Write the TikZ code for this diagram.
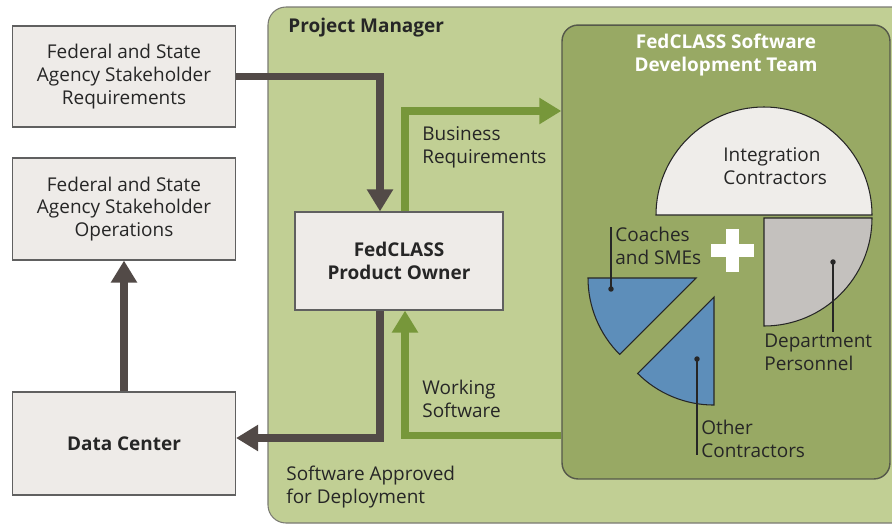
\documentclass[tikz,border=0pt]{standalone}
\usepackage{fontspec}
\setmainfont{Open Sans}
\usepackage{tikz}
\usetikzlibrary{arrows.meta}
\definecolor{pmbg}{HTML}{C1CF94}
\definecolor{pmline}{HTML}{7A7A72}
\definecolor{devbg}{HTML}{98A964}
\definecolor{devline}{HTML}{55584A}
\definecolor{boxbg}{HTML}{EEEBE8}
\definecolor{boxline}{HTML}{606060}
\definecolor{arrdark}{HTML}{524A47}
\definecolor{arrgreen}{HTML}{77973A}
\definecolor{ink}{HTML}{262626}
\definecolor{halfbg}{HTML}{EFEDEA}
\definecolor{quarterbg}{HTML}{C4C1BE}
\definecolor{bluebg}{HTML}{5D8EBA}
\newcommand{\diafont}{\fontsize{10.8pt}{13pt}\selectfont}
\tikzset{
  pmpanel/.style={draw=pmline, fill=pmbg, line width=0.6pt, rounded corners=0.36cm},
  devbox/.style={draw=devline, fill=devbg, line width=0.8pt, rounded corners=0.32cm,
    minimum width=6.56cm, minimum height=9.08cm, inner sep=0pt},
  box/.style={draw=boxline, fill=boxbg, line width=0.7pt, font=\diafont, text=ink,
    align=center, minimum width=4.46cm, inner sep=2pt},
  darkarr/.style={draw=arrdark, line width=4pt, -{Triangle[length=12.5pt,width=14.2pt]}},
  greenarr/.style={draw=arrgreen, line width=4pt, -{Triangle[length=12.5pt,width=14.2pt]}},
  slice/.style={draw=ink, line width=0.6pt},
  leader/.style={draw=ink, line width=0.6pt},
  dot/.style={circle, fill=ink, inner sep=1.1pt},
  lab/.style={font=\diafont, text=ink, inner sep=0pt, align=left, anchor=west},
}
\begin{document}
\begin{tikzpicture}[x=0.02cm,y=-0.02cm]
  \clip (0,0) rectangle (892,525);
  \fill[white] (0,0) rectangle (892,525);

  % project manager panel
  \draw[pmpanel] (268,7) rectangle (940,523);
  \node[lab,font=\diafont\bfseries] (pm) at (288,28) {Project Manager};

  % boxes outside
  \node[box,minimum height=2.02cm] (req) at (124,76.5)
    {Federal and State\\Agency Stakeholder\\Requirements};
  \node[box,minimum height=2.04cm] (ops) at (124,209)
    {Federal and State\\Agency Stakeholder\\Operations};
  \node[box,minimum height=2.06cm,font=\diafont\bfseries] (dc) at (124,443.5) {Data Center};

  % product owner
  \node[box,minimum width=4.16cm,minimum height=1.96cm,font=\diafont\bfseries] (po) at (399,261)
    {FedCLASS\\Product Owner};

  % development team
  \node[devbox] (dev) at (726,252) {};
  \node[font=\diafont\bfseries, text=white, align=center] (devt) at (726,55)
    {FedCLASS Software\\Development Team};

  % arrow lanes
  \coordinate (inx) at (380,0);
  \coordinate (outx) at (405,0);
  \coordinate (brq) at (0,111);
  \coordinate (wsw) at (0,435.5);
  \coordinate (dep) at (0,438);

  \draw[darkarr] (req.east) -| (po.north -| inx);
  \draw[greenarr] (po.north -| outx) |- (dev.west |- brq);
  \draw[greenarr] (dev.west |- wsw) -| (po.south -| outx);
  \draw[darkarr] (po.south -| inx) |- (dc.east |- dep);
  \draw[darkarr] (dc.north) -- (ops.south);

  \node[lab] (brt) at (422,147) {Business\\Requirements};
  \node[lab] (wst) at (422,399) {Working\\Software};
  \node[lab] (sad) at (286,487) {Software Approved\\for Deployment};

  % team pie
  \draw[slice,fill=halfbg] (872,215) arc[start angle=0,end angle=-180,radius=108] -- cycle;
  \draw[slice,fill=quarterbg] (764,218) -- (872,218) arc[start angle=0,end angle=90,radius=108] -- cycle;
  \draw[slice,fill=bluebg] (696,278) -- (588,278) arc[start angle=180,end angle=135,radius=108] -- cycle;
  \draw[slice,fill=bluebg] (714,297) -- (637.6,373.4) arc[start angle=135,end angle=90,radius=108] -- cycle;

  % plus sign
  \fill[white] (710.5,243.5) rectangle (753.5,256.5);
  \fill[white] (725.5,228.5) rectangle (738.5,271.5);

  % slice labels
  \node[lab] (ic) at (723,166) {Integration\\Contractors};
  \node[lab] (cs) at (615,246) {Coaches\\and SMEs};
  \node[lab] (dp) at (764,352.5) {Department\\Personnel};
  \node[lab] (oc) at (701,438.5) {Other\\Contractors};

  \node[dot] (csd) at (611,289) {};
  \node[dot] (dpd) at (833,262) {};
  \node[dot] (ocd) at (697,359) {};
  \coordinate (cse) at (611,227);
  \coordinate (dpe) at (833,332);
  \coordinate (oce) at (697,455);
  \draw[leader] (csd.center) -- (cse);
  \draw[leader] (dpd.center) -- (dpe);
  \draw[leader] (ocd.center) -- (oce);
\end{tikzpicture}
\end{document}
